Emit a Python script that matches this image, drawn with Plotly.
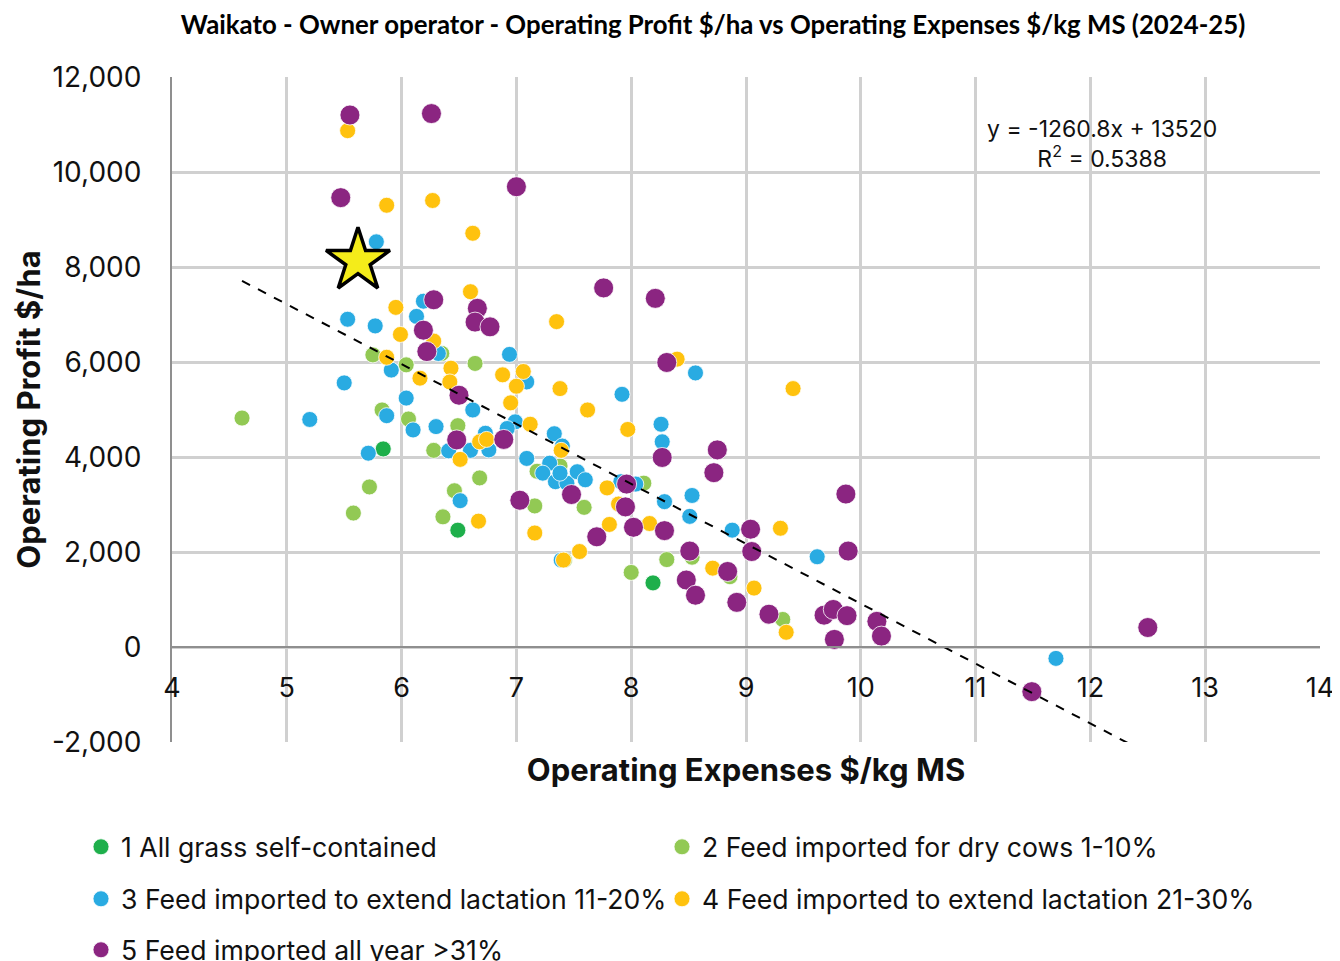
import plotly.graph_objects as go

# ---------------- data ----------------
series_names = [
    "1 All grass self-contained",
    "2 Feed imported for dry cows 1-10%",
    "3 Feed imported to extend lactation 11-20%",
    "4 Feed imported to extend lactation 21-30%",
    "5 Feed imported all year >31%",
]

s1_x = [5.84, 6.49, 8.19]
s1_y = [4170, 2460, 1350]

s2_x = [4.61, 5.58, 5.72, 5.75, 5.83, 6.04, 6.06, 6.28, 6.35, 6.49, 6.64, 6.68, 6.46,
        6.36, 7.18, 7.16, 7.59, 8.11, 7.42, 8.00, 8.31, 8.53, 8.86, 9.32, 7.38]
s2_y = [4820, 2820, 3370, 6150, 4990, 5940, 4800, 4140, 6180, 4660, 5970, 3560, 3290,
        2740, 3700, 2970, 2940, 3450, 1830, 1570, 1840, 1890, 1480, 580, 3810]

s3_x = [5.78, 5.53, 5.77, 5.50, 5.20, 5.71, 5.87, 5.91, 6.04, 6.10, 6.13, 6.19, 6.32,
        6.30, 6.62, 6.41, 6.60, 6.73, 6.76, 6.51, 6.94, 7.09, 6.99, 6.92, 7.09, 7.33,
        7.40, 7.29, 7.23, 7.34, 7.44, 7.38, 7.53, 7.60, 7.92, 8.56, 8.26, 8.27, 7.91,
        8.04, 8.29, 8.53, 8.51, 8.88, 9.62, 11.70, 7.39]
s3_y = [8530, 6900, 6760, 5560, 4790, 4080, 4870, 5830, 5240, 4570, 6960, 7280, 6180,
        4640, 4990, 4130, 4140, 4500, 4150, 3080, 6160, 5580, 4740, 4600, 3970, 4490,
        4230, 3870, 3660, 3480, 3450, 3660, 3690, 3520, 5320, 5770, 4690, 4320, 3480,
        3430, 3060, 3190, 2750, 2460, 1900, -240, 1830]

s4_x = [5.53, 5.87, 6.27, 6.62, 6.60, 5.95, 5.99, 6.28, 7.35, 5.87, 6.16, 6.43, 6.42,
        6.88, 7.06, 7.00, 6.95, 7.12, 7.38, 7.62, 7.97, 7.39, 6.68, 6.74, 6.51, 8.40,
        9.41, 7.79, 7.89, 7.81, 8.16, 6.67, 7.16, 7.55, 7.41, 8.71, 9.30, 9.07, 9.35]
s4_y = [10870, 9300, 9400, 8710, 7480, 7150, 6580, 6440, 6850, 6100, 5660, 5870, 5580,
        5730, 5800, 5490, 5140, 4690, 5440, 4990, 4580, 4140, 4320, 4370, 3950, 6060,
        5440, 3350, 3010, 2580, 2600, 2650, 2400, 2010, 1830, 1660, 2500, 1240, 310]

s5_x = [5.55, 6.26, 5.47, 7.00, 6.28, 6.66, 6.64, 6.77, 6.19, 6.22, 7.76, 8.21, 8.31,
        6.50, 6.48, 6.89, 8.75, 8.72, 8.27, 7.03, 7.48, 7.96, 7.95, 8.02, 8.29, 7.70,
        8.51, 9.04, 9.05, 9.87, 9.89, 8.84, 8.48, 8.56, 8.92, 9.20, 9.68, 9.76, 9.88,
        9.77, 10.14, 10.18, 12.50, 11.49]
s5_y = [11200, 11230, 9460, 9690, 7310, 7130, 6840, 6740, 6670, 6220, 7560, 7340, 5990,
        5300, 4360, 4370, 4150, 3670, 3990, 3090, 3210, 3430, 2950, 2520, 2450, 2320,
        2020, 2480, 2010, 3220, 2020, 1590, 1410, 1090, 940, 690, 670, 790, 660,
        160, 540, 230, 410, -940]

highlight_x = [5.62]
highlight_y = [8130]

trend_slope = -1260.8
trend_intercept = 13520
trend_r2 = 0.5388

x_ticks = [4, 5, 6, 7, 8, 9, 10, 11, 12, 13, 14]
y_tick_vals = [-2000, 0, 2000, 4000, 6000, 8000, 10000, 12000]
y_tick_text = ["-2,000", "0", "2,000", "4,000", "6,000", "8,000", "10,000", "12,000"]

# ---------------- styling ----------------
colors = ["#1EAF4B", "#92C954", "#29ABE2", "#FFC20E", "#8B2581"]
sizes = [16, 16, 16, 16, 20]
FONT = "Inter, Roboto, sans-serif"

# page body has an 8px margin, so the figure is drawn 8px smaller
W, H = 1332, 953
OFF = 8

xs = [s1_x, s2_x, s3_x, s4_x, s5_x]
ys = [s1_y, s2_y, s3_y, s4_y, s5_y]

fig = go.Figure()

legend_ids = ["legend", "legend2", "legend3", "legend4", "legend5"]
for i in range(5):
    fig.add_trace(go.Scatter(
        x=xs[i], y=ys[i], mode="markers", name=series_names[i],
        marker=dict(color=colors[i], size=sizes[i], line=dict(color="white", width=0.8)),
        legend=legend_ids[i],
    ))

all_x = [v for arr in xs for v in arr]
tx = [min(all_x), max(all_x)]
ty = [trend_slope * v + trend_intercept for v in tx]
fig.add_trace(go.Scatter(
    x=tx, y=ty, mode="lines", showlegend=False,
    line=dict(color="black", width=2, dash="dash"),
))

fig.add_trace(go.Scatter(
    x=highlight_x, y=highlight_y, mode="markers", showlegend=False,
    marker=dict(symbol="star", size=48, color="#F4EC1A", line=dict(color="black", width=3.5)),
))

y_min, y_max = -2000, 12000

fig.update_layout(
    width=W, height=H,
    paper_bgcolor="white", plot_bgcolor="white",
    margin=dict(l=172 - OFF, r=20, t=77 - OFF, b=219, autoexpand=False),
    font=dict(family=FONT, color="#111111"),
    title=dict(
        text="<b>Waikato - Owner operator - Operating Profit $/ha vs Operating Expenses $/kg MS (2024-25)</b>",
        x=(713 - OFF) / W, xanchor="center", y=1 - (25 - OFF) / H, yanchor="middle",
        font=dict(family="Lato, sans-serif", size=25.8, color="#000000"),
    ),
    xaxis=dict(
        range=[4, 14], tickvals=x_ticks, showgrid=True, gridcolor="#D0D0D0", gridwidth=2.5,
        zeroline=False, showline=True, linecolor="#8F8F8F", linewidth=2,
        anchor="free", position=(0 - y_min) / (y_max - y_min),
        ticks="", ticklabelstandoff=17,
        tickfont=dict(size=27, family=FONT, color="#111111"),
        title=dict(text="<b>Operating Expenses $/kg MS</b>", standoff=55,
                   font=dict(size=31, family=FONT, color="#111111")),
    ),
    yaxis=dict(
        range=[y_min, y_max], tickvals=y_tick_vals, ticktext=y_tick_text,
        showgrid=True, gridcolor="#D0D0D0", gridwidth=2.5,
        zeroline=False, showline=True, linecolor="#8F8F8F", linewidth=2,
        ticks="", ticklabelstandoff=23,
        tickfont=dict(size=28, family=FONT, color="#111111"),
        title=dict(text="<b>Operating Profit $/ha</b>", standoff=2,
                   font=dict(size=31, family=FONT, color="#111111")),
    ),
    annotations=[dict(
        x=0.81, y=0.90, xref="paper", yref="paper", xanchor="center", yanchor="middle",
        showarrow=False, align="center",
        text=f"y = {trend_slope}x + {trend_intercept}<br>R<sup>2</sup> = {trend_r2}",
        font=dict(size=23, family=FONT, color="#111111"),
    )],
)

leg_pos = [(81, 847), (662, 847), (81, 899), (662, 899), (81, 950)]
for lid, (lx, ly) in zip(legend_ids, leg_pos):
    fig.update_layout({lid: dict(
        x=(lx - OFF) / W, y=1 - (ly - OFF) / H, xref="container", yref="container",
        xanchor="left", yanchor="middle", orientation="h",
        bgcolor="rgba(0,0,0,0)", font=dict(size=26.6, family=FONT, color="#111111"),
        itemwidth=30,
    )})

fig.write_html("out.html")
